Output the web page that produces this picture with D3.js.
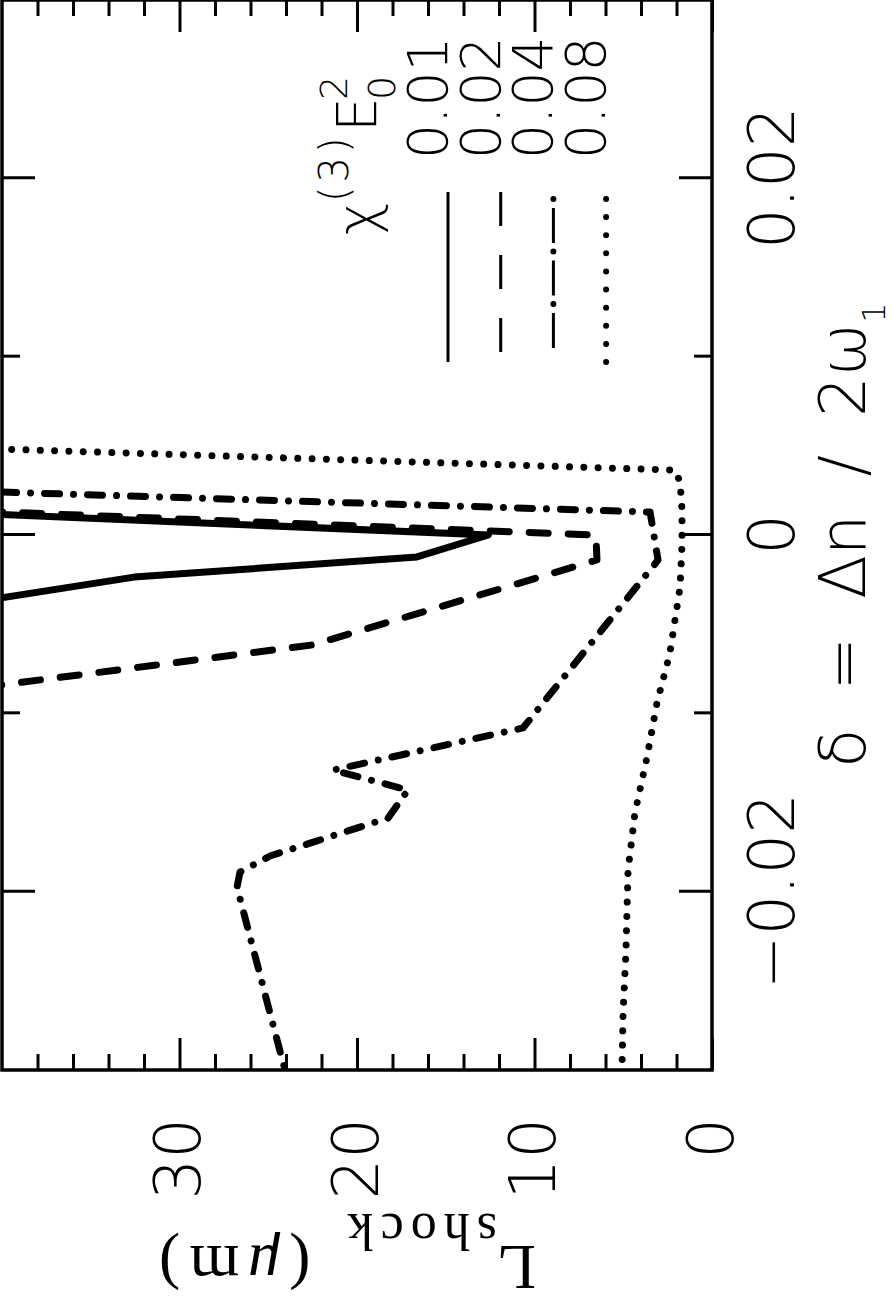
<!DOCTYPE html>
<html>
<head>
<meta charset="utf-8">
<script src="https://cdn.jsdelivr.net/npm/d3@7"></script>
<style>
  body { margin: 0; background: #fff; }
  svg { display: block; }
</style>
</head>
<body>
<div id="chart"></div>
<script>
var chi001 = [[0.002, 60.3], [0, 12.6], [-0.00123, 16.62], [-0.00236, 32.56], [-0.004, 43.1]];
var chi002 = [[0.002, 58.6], [0, 6.54], [-0.0014, 6.48], [-0.00617, 22.54], [-0.009, 44.7]];
var chi004 = [[0.003, 59.4], [0.00129, 3.49], [-0.0014, 3.04], [-0.01082, 10.65], [-0.01318, 21.35],
              [-0.0143, 17.13], [-0.01587, 18.25], [-0.018, 24.9], [-0.0189, 26.59], [-0.01974, 26.76], [-0.03, 24.06]];
var chi008 = [[0.005, 45.9], [0.00364, 2.08], [0.00297, 1.8], [0.0014, 1.69], [-0.00056, 1.69], [-0.00292, 1.8],
              [-0.00662, 2.37], [-0.00942, 3.1], [-0.01245, 3.66], [-0.01559, 4.34], [-0.01879, 4.73],
              [-0.02344, 4.85], [-0.0268, 5.01], [-0.03, 5.07]];

var deltaTicks = [-0.02, 0, 0.02];
var deltaMinor = [-0.01, 0.01];
var lTicks = [0, 10, 20, 30];
var lMinor = [2, 4, 6, 8, 12, 14, 16, 18, 22, 24, 26, 28, 32, 34, 36, 38];
var legendLabels = ["0.01", "0.02", "0.04", "0.08"];

var FONT = "'DejaVu Sans', sans-serif";
var SERIF = "'Liberation Serif', 'Times New Roman', serif";

// the plot is drawn upright then turned 90 degrees counter-clockwise
var W = 1070, H = 710;

var svg = d3.select("#chart").append("svg")
    .attr("width", 892)
    .attr("height", 1306);

svg.append("rect").attr("width", 892).attr("height", 1306).attr("fill", "#fff");

var g = svg.append("g")
    .attr("transform", "translate(2,1070) rotate(-90)");

var x = d3.scaleLinear().domain([-0.03, 0.03]).range([0, W]);
var y = d3.scaleLinear().domain([0, 40]).range([H, 0]);

var fmt = function(d) { return d === 0 ? "0" : d3.format(".2f")(d); };

function styleAxis(sel) {
    sel.select(".domain").remove();
    sel.selectAll(".tick line").attr("stroke-width", 3);
    sel.attr("font-family", FONT).attr("font-size", 64).attr("font-weight", 200);
}

// delta axis (bottom & top of upright plot)
g.append("g").attr("transform", "translate(0," + H + ")")
    .call(d3.axisBottom(x).tickValues(deltaTicks).tickSizeInner(-33).tickSizeOuter(0).tickPadding(37).tickFormat(fmt))
    .call(styleAxis);
g.append("g").attr("transform", "translate(0," + H + ")")
    .call(d3.axisBottom(x).tickValues(deltaMinor).tickSizeInner(-18).tickSizeOuter(0).tickFormat(""))
    .call(styleAxis);
g.append("g")
    .call(d3.axisTop(x).tickValues(deltaTicks).tickSizeInner(-33).tickSizeOuter(0).tickFormat(""))
    .call(styleAxis);
g.append("g")
    .call(d3.axisTop(x).tickValues(deltaMinor).tickSizeInner(-18).tickSizeOuter(0).tickFormat(""))
    .call(styleAxis);

// L axis (left & right of upright plot)
g.append("g")
    .call(d3.axisLeft(y).tickValues(lTicks).tickSizeInner(-32).tickSizeOuter(0).tickPadding(48).tickFormat(d3.format("d")))
    .call(styleAxis);
g.append("g")
    .call(d3.axisLeft(y).tickValues(lMinor).tickSizeInner(-16).tickSizeOuter(0).tickFormat(""))
    .call(styleAxis);
g.append("g").attr("transform", "translate(" + W + ",0)")
    .call(d3.axisRight(y).tickValues(lTicks).tickSizeInner(-32).tickSizeOuter(0).tickFormat(""))
    .call(styleAxis);
g.append("g").attr("transform", "translate(" + W + ",0)")
    .call(d3.axisRight(y).tickValues(lMinor).tickSizeInner(-16).tickSizeOuter(0).tickFormat(""))
    .call(styleAxis);

// curves
g.append("clipPath").attr("id", "clip")
  .append("rect").attr("width", W).attr("height", H);

var line = d3.line()
    .x(function(d) { return x(d[0]); })
    .y(function(d) { return y(d[1]); });

var series = [
    { data: chi001, dash: null },
    { data: chi002, dash: "19,20" },
    { data: chi004, dash: "15,14,0.01,14" },
    { data: chi008, dash: "0.01,14.3" }
];

g.append("g").attr("clip-path", "url(#clip)")
  .selectAll("path").data(series).enter().append("path")
    .attr("d", function(d) { return line(d.data); })
    .attr("fill", "none")
    .attr("stroke", "#000")
    .attr("stroke-width", 7)
    .attr("stroke-linecap", "round")
    .attr("stroke-linejoin", "round")
    .attr("stroke-dasharray", function(d) { return d.dash; });

// frame
g.append("rect")
    .attr("width", W).attr("height", H)
    .attr("fill", "none").attr("stroke", "#000").attr("stroke-width", 3.5);

// legend
var leg = g.append("g").attr("font-family", FONT).attr("font-weight", 200);
var rowV = function(i) { return 445 + 52.7 * i; };

leg.selectAll("text.lab").data(legendLabels).enter().append("text")
    .attr("class", "lab")
    .attr("x", 911).attr("y", function(d, i) { return rowV(i); })
    .attr("font-size", 55)
    .text(function(d) { return d; });

var lg = leg.append("g").attr("stroke", "#000").attr("fill", "none");
lg.append("line").attr("x1", 708).attr("x2", 878).attr("y1", rowV(0) + 1).attr("y2", rowV(0) + 1)
    .attr("stroke-width", 3);
lg.append("line").attr("x1", 718).attr("x2", 878).attr("y1", rowV(1) + 1).attr("y2", rowV(1) + 1)
    .attr("stroke-width", 3).attr("stroke-dasharray", "34,29");
lg.append("line").attr("x1", 722).attr("x2", 872).attr("y1", rowV(2) + 1).attr("y2", rowV(2) + 1)
    .attr("stroke-width", 3).attr("stroke-dasharray", "35,17.5");
lg.append("line").attr("x1", 722).attr("x2", 872).attr("y1", rowV(2) + 1).attr("y2", rowV(2) + 1)
    .attr("stroke-width", 6).attr("stroke-linecap", "round")
    .attr("stroke-dasharray", "0.01,52.5").attr("stroke-dashoffset", 8.5);
lg.append("line").attr("x1", 708).attr("x2", 873).attr("y1", rowV(3) + 1).attr("y2", rowV(3) + 1)
    .attr("stroke-width", 6).attr("stroke-linecap", "round")
    .attr("stroke-dasharray", "0.01,18.1");

// legend title chi^(3) E_0^2
leg.append("text").attr("x", 835).attr("y", 374).attr("font-size", 55).text("\u03c7");
leg.append("text").attr("x", 868).attr("y", 346).attr("font-size", 40).attr("letter-spacing", 4).text("(3)");
leg.append("text").attr("x", 938).attr("y", 374).attr("font-size", 55).text("E");
leg.append("text").attr("x", 970).attr("y", 393).attr("font-size", 38).text("0");
leg.append("text").attr("x", 970).attr("y", 345).attr("font-size", 38).text("2");

// delta axis title
var xt = g.append("text")
    .attr("x", W / 2).attr("y", 863)
    .attr("text-anchor", "middle")
    .attr("font-family", FONT).attr("font-weight", 200).attr("font-size", 64);
xt.append("tspan").text("\u03b4");
xt.append("tspan").attr("dx", 38).text("=");
xt.append("tspan").attr("dx", 38).text("\u0394n");
xt.append("tspan").attr("dx", 38).text("/");
xt.append("tspan").attr("dx", 38).text("2\u03c9");
xt.append("tspan").attr("dy", 20).attr("font-size", 32).text("1");

// L axis title
var yt = g.append("text")
    .attr("transform", "translate(-176," + (H / 2 - 14) + ") rotate(-90)")
    .attr("text-anchor", "middle")
    .attr("font-family", SERIF).attr("font-size", 64);
yt.append("tspan").text("L");
yt.append("tspan").attr("dy", 32).attr("font-size", 52).attr("letter-spacing", 7).text("shock");
yt.append("tspan").attr("dy", -32).attr("dx", 30).attr("letter-spacing", 9).text("(");
yt.append("tspan").attr("font-style", "italic").attr("letter-spacing", 9).text("\u03bc");
yt.append("tspan").attr("letter-spacing", 9).text("m)");
</script>
</body>
</html>
